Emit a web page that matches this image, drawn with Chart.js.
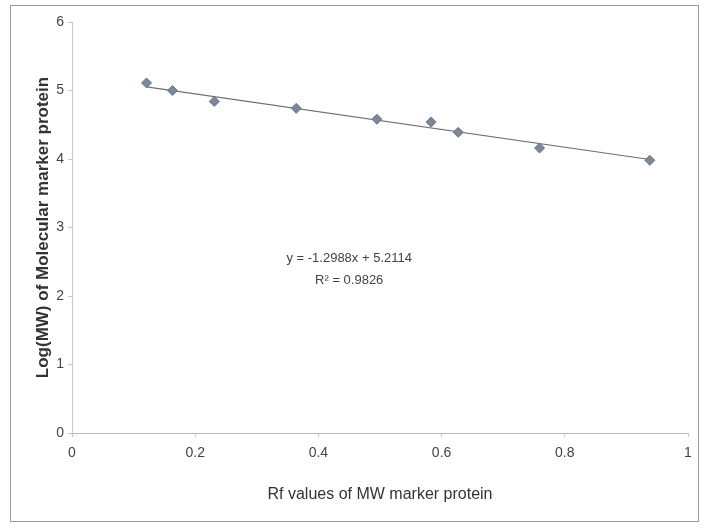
<!DOCTYPE html>
<html>
<head>
<meta charset="utf-8">
<script src="https://cdn.jsdelivr.net/npm/chart.js@4/dist/chart.umd.min.js"></script>
<style>
  html, body { margin: 0; padding: 0; background: #fff; }
  #wrap { width: 704px; height: 528px; }
</style>
</head>
<body>
<div id="wrap"><canvas id="myChart" width="704" height="528"></canvas></div>
<script>
// Rf values and log(MW)
const rfValues = [0.121, 0.163, 0.231, 0.364, 0.495, 0.583, 0.627, 0.759, 0.938];
const logMW = [5.11, 5.00, 4.84, 4.74, 4.58, 4.54, 4.39, 4.16, 3.98];

// linear trendline as printed on the chart
const slope = -1.2988;
const intercept = 5.2114;
const eqText = 'y = -1.2988x + 5.2114';
const r2Text = 'R\u00b2 = 0.9826';

const fontFam = '"Liberation Sans", Arial, sans-serif';

const points = rfValues.map((x, i) => ({ x: x, y: logMW[i] }));
const xMin = Math.min(...rfValues);
const xMax = Math.max(...rfValues);
const trend = [xMin, xMax].map(x => ({ x: x, y: slope * x + intercept }));

const extras = {
    id: 'extras',
    afterDraw(chart) {
        const ctx = chart.ctx;
        const xs = chart.scales.x, ys = chart.scales.y;
        ctx.save();
        // outer frame
        ctx.strokeStyle = '#9a9a9a';
        ctx.lineWidth = 1;
        ctx.strokeRect(10.5, 5.5, 688, 516);
        // equation label
        ctx.fillStyle = '#444';
        ctx.font = '13px ' + fontFam;
        ctx.textAlign = 'center';
        ctx.textBaseline = 'middle';
        const cx = xs.getPixelForValue(0.45);
        ctx.fillText(eqText, cx, ys.getPixelForValue(2.55));
        ctx.fillText(r2Text, cx, ys.getPixelForValue(2.23));
        ctx.restore();
    }
};

const ctx = document.getElementById('myChart').getContext('2d');
const chart = new Chart(ctx, {
    type: 'scatter',
    data: {
        datasets: [{
            data: points,
            pointStyle: 'rectRot',
            pointRadius: 5,
            backgroundColor: '#7d8797',
            borderColor: '#6a7483',
            borderWidth: 1,
            order: 1
        }, {
            type: 'line',
            data: trend,
            borderColor: '#6f6f6f',
            borderWidth: 1.2,
            pointRadius: 0,
            fill: false,
            order: 2
        }]
    },
    options: {
        responsive: false,
        animation: false,
        layout: { padding: { left: 0, top: 22, right: 16, bottom: 6 } },
        plugins: {
            legend: { display: false },
            tooltip: { enabled: false }
        },
        scales: {
            x: {
                type: 'linear',
                min: 0,
                max: 1,
                ticks: {
                    stepSize: 0.2,
                    color: '#444',
                    font: { family: fontFam, size: 14 },
                    padding: 8,
                    callback: v => String(Math.round(v * 10) / 10)
                },
                grid: { drawOnChartArea: false, drawTicks: true, tickLength: 4, color: '#c8c8c8' },
                border: { color: '#b8b8b8', dash: [2, 1] },
                title: {
                    display: true,
                    text: 'Rf values of MW marker protein',
                    color: '#333',
                    font: { family: fontFam, size: 16 },
                    padding: { top: 4, bottom: 18 }
                },
                afterFit(s) { s.height = 89; }
            },
            y: {
                min: 0,
                max: 6,
                ticks: {
                    stepSize: 1,
                    color: '#444',
                    font: { family: fontFam, size: 14 },
                    padding: 4
                },
                grid: { drawOnChartArea: false, drawTicks: true, tickLength: 4, color: '#c8c8c8' },
                border: { color: '#c8c8c8' },
                title: {
                    display: true,
                    text: 'Log(MW) of Molecular marker protein',
                    color: '#333',
                    font: { family: fontFam, size: 17, weight: 'bold' },
                    padding: { top: 33, bottom: 4 }
                },
                afterFit(s) { s.width = 72; }
            }
        }
    },
    plugins: [extras]
});
</script>
</body>
</html>
